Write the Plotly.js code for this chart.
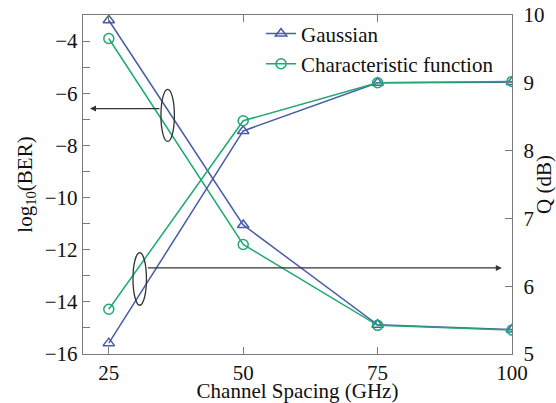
<!DOCTYPE html>
<html>
<head>
<meta charset="utf-8">
<script src="https://cdn.plot.ly/plotly-3.0.1.min.js"></script>
<style>html,body{margin:0;padding:0;background:#fff;}#plot{width:556px;height:403px;}</style>
</head>
<body>
<div id="plot"></div>
<script>
const spacing = [25, 50, 75, 100];
const berGaussian = [-3.2, -11.05, -14.88, -15.06];
const berCharFn = [-3.9, -11.8, -14.9, -15.08];
const qGaussian = [5.16, 8.29, 9.0, 9.01];
const qCharFn = [5.66, 8.44, 9.0, 9.02];
const xTicks = [25, 50, 75, 100];

const blue = '#4a5ca8';
const green = '#1fa874';
const axisColor = '#7a7a7a';
const font = 'Liberation Serif, Times New Roman, serif';

const traces = [
  {x: spacing, y: berGaussian, name: 'Gaussian', mode: 'lines+markers',
   line: {color: blue, width: 1.5}, marker: {symbol: 'triangle-up-open', size: 10, color: blue, line: {width: 1.5}}, yaxis: 'y'},
  {x: spacing, y: berCharFn, name: 'Characteristic function', mode: 'lines+markers',
   line: {color: green, width: 1.5}, marker: {symbol: 'circle-open', size: 10, color: green, line: {width: 1.5}}, yaxis: 'y'},
  {x: spacing, y: qGaussian, name: 'Gaussian', mode: 'lines+markers', showlegend: false,
   line: {color: blue, width: 1.5}, marker: {symbol: 'triangle-up-open', size: 10, color: blue, line: {width: 1.5}}, yaxis: 'y2'},
  {x: spacing, y: qCharFn, name: 'Characteristic function', mode: 'lines+markers', showlegend: false,
   line: {color: green, width: 1.5}, marker: {symbol: 'circle-open', size: 10, color: green, line: {width: 1.5}}, yaxis: 'y2'}
];

const layout = {
  width: 556, height: 403,
  margin: {l: 83, r: 44, t: 15, b: 49},
  paper_bgcolor: '#fff', plot_bgcolor: '#fff',
  font: {family: font, size: 21, color: '#111'},
  showlegend: true,
  legend: {x: 0.415, y: 1.005, xanchor: 'left', yanchor: 'top', bgcolor: 'rgba(0,0,0,0)',
           font: {family: font, size: 21, color: '#111'}, tracegroupgap: 0, itemwidth: 30},
  xaxis: {range: [20.2, 100], tickvals: xTicks, ticks: 'inside', ticklen: 7, tickcolor: axisColor,
          showline: true, linecolor: axisColor, linewidth: 1.2, mirror: 'ticks', showgrid: false, zeroline: false,
          title: {text: 'Channel Spacing (GHz)', font: {family: font, size: 21}, standoff: 0},
          tickfont: {family: font, size: 21}},
  yaxis: {range: [-16, -3], dtick: 2, tick0: -16, ticks: 'inside', ticklen: 7, tickcolor: axisColor,
          minor: {dtick: 1, ticks: 'inside', ticklen: 7, tickcolor: axisColor},
          showline: true, linecolor: axisColor, linewidth: 1.2, showgrid: false, zeroline: false,
          tickfont: {family: font, size: 21},
          title: {text: 'log<sub>10</sub>(BER)', font: {family: font, size: 21}, standoff: 6}},
  yaxis2: {range: [5, 10], dtick: 1, overlaying: 'y', side: 'right', ticks: 'inside', ticklen: 7, tickcolor: axisColor,
           showline: true, linecolor: axisColor, linewidth: 1.2, showgrid: false, zeroline: false,
           tickfont: {family: font, size: 21}, ticklabelstandoff: 6,
           title: {text: 'Q (dB)', font: {family: font, size: 21}, standoff: 0}},
  shapes: [
    {type: 'circle', xref: 'x', yref: 'y', x0: 34.7, x1: 37.2, y0: -7.85, y1: -5.85, line: {color: '#333', width: 1.3}},
    {type: 'circle', xref: 'x', yref: 'y', x0: 29.5, x1: 32.0, y0: -14.13, y1: -12.11, line: {color: '#333', width: 1.3}}
  ],
  annotations: [
    {xref: 'x', yref: 'y', x: 21.5, y: -6.59, ax: 34.7, ay: -6.59, axref: 'x', ayref: 'y', text: '',
     showarrow: true, arrowhead: 2, arrowsize: 1, arrowwidth: 1.2, arrowcolor: '#333'},
    {xref: 'x', yref: 'y', x: 98.1, y: -12.70, ax: 32.0, ay: -12.70, axref: 'x', ayref: 'y', text: '',
     showarrow: true, arrowhead: 2, arrowsize: 1, arrowwidth: 1.2, arrowcolor: '#333'}
  ]
};

Plotly.newPlot('plot', traces, layout, {displayModeBar: false, staticPlot: true});
</script>
</body>
</html>
